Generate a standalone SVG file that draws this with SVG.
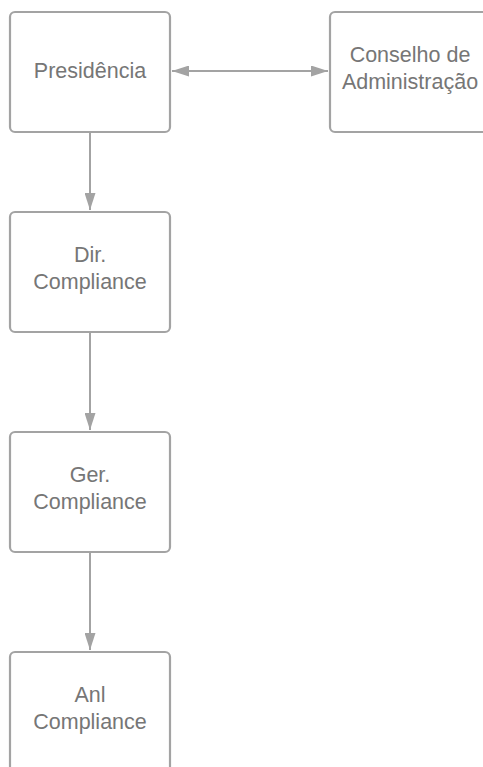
<svg xmlns="http://www.w3.org/2000/svg" width="483" height="767" viewBox="0 0 483 767">
<defs>
<marker id="ah" viewBox="0 0 17 11" refX="17" refY="5.5" markerWidth="17" markerHeight="11" markerUnits="userSpaceOnUse" orient="auto-start-reverse">
<path d="M0,0 L17,5.5 L0,11 Z" fill="#a3a3a3"/>
</marker>
<style>
.box{fill:#ffffff;stroke:#a3a3a3;stroke-width:2.2}
.t{font-family:"Liberation Sans",Arial,sans-serif;font-size:21.5px;fill:#767676;text-anchor:middle}
.c{fill:none;stroke:#a3a3a3;stroke-width:2}
</style>
</defs>
<rect width="483" height="767" fill="#ffffff"/>
<g id="connectors">
<line class="c" x1="172" y1="71" x2="328" y2="71" marker-start="url(#ah)" marker-end="url(#ah)"/>
<line class="c" x1="90" y1="133" x2="90" y2="210" marker-end="url(#ah)"/>
<line class="c" x1="90" y1="332" x2="90" y2="430" marker-end="url(#ah)"/>
<line class="c" x1="90" y1="552" x2="90" y2="650" marker-end="url(#ah)"/>
</g>
<g id="presidencia">
<rect class="box" x="10" y="12" width="160" height="120" rx="5"/>
<text class="t" x="90" y="78">Presidência</text>
</g>
<g id="conselho">
<rect class="box" x="330" y="12" width="160" height="120" rx="5"/>
<text class="t" x="410" y="62">Conselho de</text>
<text class="t" x="410" y="89">Administração</text>
</g>
<g id="dir">
<rect class="box" x="10" y="212" width="160" height="120" rx="5"/>
<text class="t" x="90" y="262">Dir.</text>
<text class="t" x="90" y="289">Compliance</text>
</g>
<g id="ger">
<rect class="box" x="10" y="432" width="160" height="120" rx="5"/>
<text class="t" x="90" y="482">Ger.</text>
<text class="t" x="90" y="509">Compliance</text>
</g>
<g id="anl">
<rect class="box" x="10" y="652" width="160" height="120" rx="5"/>
<text class="t" x="90" y="702">Anl</text>
<text class="t" x="90" y="729">Compliance</text>
</g>
</svg>
